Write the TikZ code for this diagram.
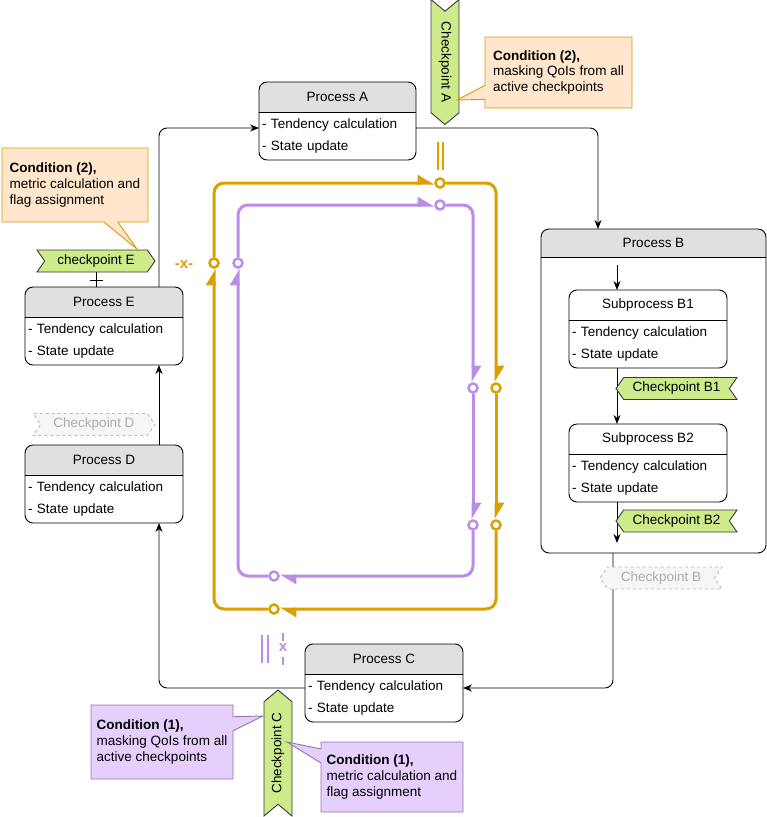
\documentclass[tikz,border=0pt]{standalone}
\usepackage{fontspec}
\setmainfont{Liberation Sans}
\usetikzlibrary{arrows.meta,positioning,shapes.symbols,shapes.callouts,backgrounds}
\definecolor{headgray}{HTML}{E0E0E0}
\definecolor{cpgreen}{HTML}{CDEB8B}
\definecolor{cpline}{HTML}{36393D}
\definecolor{peach}{HTML}{FFE6CC}
\definecolor{peachline}{HTML}{D79B00}
\definecolor{lilac}{HTML}{E5CFFC}
\definecolor{lilacline}{HTML}{9673A6}
\definecolor{loopor}{HTML}{DBA000}
\definecolor{looppu}{HTML}{BB8DE6}
\tikzset{%
  >={Stealth[width=7pt,length=9pt]},
  % process boxes: header + body
        head/.style = {minimum height=30, inner sep=0, outer sep=0, anchor=north},
        body/.style = {minimum height=48, inner sep=3, outer sep=0, align=left},
  % checkpoints (ribbons)
          cp/.style = {signal, draw=cpline, fill=cpgreen, signal pointer angle=110,
                       minimum height=22, inner sep=1, outer sep=0},
     cpright/.style = {cp, signal from=west, signal to=east},
      cpleft/.style = {cp, signal from=east, signal to=west},
       ghost/.style = {draw=gray!55, fill=gray!7, text=gray!65, dashed},
  % condition notes
        note/.style = {rectangle callout, align=left, inner xsep=4, inner ysep=4,
                       outer sep=0, callout pointer width=14,
                       font=\fontsize{13.5}{15.8}\selectfont},
       cond2/.style = {note, fill=peach, draw=peachline},
       cond1/.style = {note, fill=lilac, draw=lilacline},
  % the two cycles
       ocirc/.style = {circle, draw=loopor, fill=white, line width=2.5pt,
                       minimum size=9pt, inner sep=0},
       pcirc/.style = {ocirc, draw=looppu},
       oloop/.style = {draw=loopor, line width=3pt, rounded corners=10,
                       -{Triangle[harpoon, length=14pt, width=16pt]}},
       ploop/.style = {oloop, draw=looppu},
}
% process box with a title row and two task lines
\newcommand{\procbox}[6]{%
  \pgfmathsetmacro\boxtw{#4-6}
  \node[head, minimum width=#4] (#1) at (#2,#3) {#5};
  \node[body, text width=\boxtw pt, below=0pt of #1] (#1b)
       {- Tendency calculation\\[6pt]- State update};
  \begin{scope}[on background layer]
    \begin{scope}
      \clip[rounded corners=8] (#1.north west) rectangle (#1b.south east);
      \fill[#6] (#1.north west) rectangle (#1.south east);
    \end{scope}
  \end{scope}
  \draw[rounded corners=8] (#1.north west) rectangle (#1b.south east);
  \draw (#1.south west) -- (#1.south east);
}

\begin{document}
\begin{tikzpicture}[x=1pt, y=-1pt, line width=0.9pt,
    font=\fontsize{13.5}{16}\selectfont]
  \useasboundingbox (0,0) rectangle (767,817);
  % processes
  \procbox{A}{337.5}{82}{157}{Process A}{headgray}
  \procbox{C}{384}{644}{158}{Process C}{headgray}
  \procbox{D}{104}{445}{158}{Process D}{headgray}
  \procbox{E}{104}{287}{158}{Process E}{headgray}
  % process B and its subprocesses
  \node[head, minimum width=225, minimum height=28] (B) at (653.5,229) {Process B};
  \coordinate (Bse) at (766,553);
  \begin{scope}[on background layer]
    \begin{scope}
      \clip[rounded corners=8] (B.north west) rectangle (Bse);
      \fill[headgray] (B.north west) rectangle (B.south east);
    \end{scope}
  \end{scope}
  \draw[rounded corners=8] (B.north west) rectangle (Bse);
  \draw (B.south west) -- (B.south east);
  \procbox{B1}{648}{290}{158}{Subprocess B1}{white}
  \procbox{B2}{648}{424}{158}{Subprocess B2}{white}

  % flow between processes
  \coordinate (Bin) at (617,265);
  \coordinate (Bend) at (617,543);
  \coordinate (Bout) at (613,553);
  \draw[->, rounded corners=8] (Ab.east |- 0,128) -| (B.north -| 598,0);
  \draw[->] (Bin) -- (B1.north -| Bin);
  \draw[->] (B1b.south -| Bin) -- (B2.north -| Bin);
  \draw[->] (B2b.south -| Bin) -- (Bend);
  \draw[->, rounded corners=8] (Bout) |- (Cb.east |- 0,688);
  \draw[->, rounded corners=8] (Cb.west |- 0,688) -| (Db.south -| 159,0);
  \draw[->] (D.north -| 159,0) -- (Eb.south -| 159,0);
  \draw[->, rounded corners=8] (E.north -| 159,0) |- (Ab.west |- 0,128);

  % checkpoints
  \node[cpright, rotate=-90, minimum width=125, minimum height=28,
        signal pointer angle=100] (cpA) at (445,62) {Checkpoint A};
  \node[cpright, minimum width=118] (cpE) at (96,261) {checkpoint E};
  \node[cpright, ghost, minimum width=122] (cpD) at (94,424.5) {Checkpoint D};
  \node[cpleft, minimum width=121] (cpB1) at (676.5,388.5) {Checkpoint B1};
  \node[cpleft, minimum width=121] (cpB2) at (676.5,521) {Checkpoint B2};
  \node[cpleft, ghost, minimum width=122] (cpB) at (661,578) {Checkpoint B};
  \node[cpright, rotate=90, minimum width=126, minimum height=28,
        signal pointer angle=100] (cpC) at (278,753) {Checkpoint C};
  \draw (cpE.south) -- (cpE.south |- E.north);
  \draw ([xshift=-6.5pt]cpE.south |- 0,280) -- ++(13,0);

  % conditions
  \node[cond2, minimum width=147, minimum height=71,
        callout absolute pointer={(457,100)}] (nA) at (558.5,72.5)
       {\textbf{Condition (2),}\\masking QoIs from all\\active checkpoints};
  \node[cond2, minimum width=146, minimum height=74,
        callout absolute pointer={(137,249)}] (nE) at (75,185)
       {\textbf{Condition (2),}\\metric calculation and\\flag assignment};
  \node[cond1, minimum width=142, minimum height=74,
        callout absolute pointer={(263,716)}] (nC1) at (162,742)
       {\textbf{Condition (1),}\\masking QoIs from all\\active checkpoints};
  \node[cond1, minimum width=142, minimum height=70,
        callout absolute pointer={(287,742)}] (nC2) at (392,777)
       {\textbf{Condition (1),}\\metric calculation and\\flag assignment};

  % cycle (2), orange
  \node[ocirc] (ot)  at (440,183) {};
  \node[ocirc] (ol)  at (214,263) {};
  \node[ocirc] (or1) at (496,388) {};
  \node[ocirc] (or2) at (496,525) {};
  \node[ocirc] (ob)  at (274,609) {};
  \draw[oloop] (ol) |- (ot);
  \draw[oloop] (ot) -| (or1);
  \draw[oloop] (or1) -- (or2);
  \draw[oloop] (or2) |- (ob);
  \draw[oloop] (ob) -| (ol);
  % cycle (1), purple
  \node[pcirc] (pt)  at (440,205) {};
  \node[pcirc] (pl)  at (238,263) {};
  \node[pcirc] (pr1) at (473,388) {};
  \node[pcirc] (pr2) at (473,525) {};
  \node[pcirc] (pb)  at (274,576) {};
  \draw[ploop] (pl) |- (pt);
  \draw[ploop] (pt) -| (pr1);
  \draw[ploop] (pr1) -- (pr2);
  \draw[ploop] (pr2) |- (pb);
  \draw[ploop] (pb) -| (pl);

  % marks
  \draw[loopor, line width=2pt] (438,142) -- (438,170) (443,142) -- (443,170);
  \node[text=loopor, font=\bfseries\fontsize{15}{16}\selectfont] (ox) at (184,265) {-x-};
  \draw[looppu, line width=2pt] (262,635) -- (262,663) (268,635) -- (268,663);
  \draw[looppu, line width=2pt] (283,633) -- (283,641) (283,657) -- (283,665);
  \node[text=looppu, inner sep=0, font=\bfseries\fontsize{15}{16}\selectfont] (px) at (283,648) {x};
\end{tikzpicture}
\end{document}
